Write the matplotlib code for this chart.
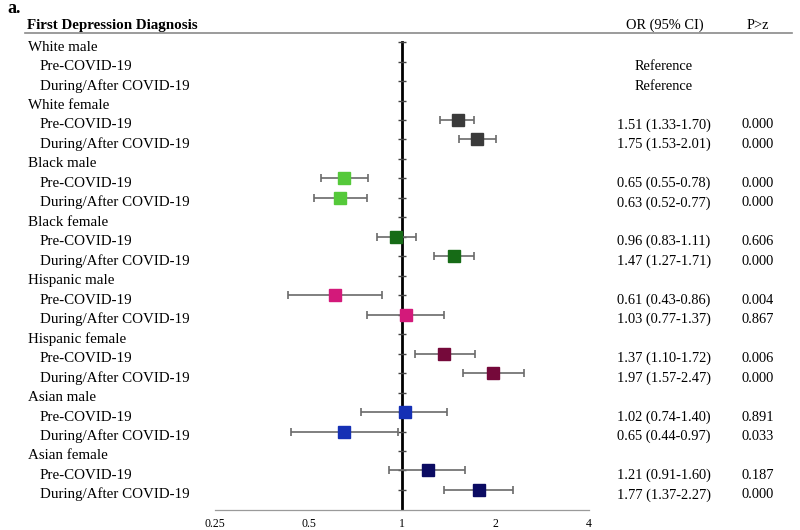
import numpy as np
import matplotlib
matplotlib.use('Agg')
import matplotlib.pyplot as plt
from matplotlib.lines import Line2D
import matplotlib.transforms as mtransforms

plt.rcParams['font.family'] = ['Liberation Serif', 'DejaVu Serif']

# data
groups = ['White male', 'White female', 'Black male', 'Black female',
          'Hispanic male', 'Hispanic female', 'Asian male', 'Asian female']
periods = ['Pre-COVID-19', 'During/After COVID-19']
colors = ['#3a3a3a', '#3a3a3a', '#55c93a', '#166b16',
          '#d3197a', '#75093a', '#1530b5', '#0b0b62']
# two values per group: pre, during/after (White male = reference)
or_est = [1.00, 1.00, 1.51, 1.75, 0.65, 0.63, 0.96, 1.47,
          0.61, 1.03, 1.37, 1.97, 1.02, 0.65, 1.21, 1.77]
ci_low = [1.00, 1.00, 1.33, 1.53, 0.55, 0.52, 0.83, 1.27,
          0.43, 0.77, 1.10, 1.57, 0.74, 0.44, 0.91, 1.37]
ci_high = [1.00, 1.00, 1.70, 2.01, 0.78, 0.77, 1.11, 1.71,
           0.86, 1.37, 1.72, 2.47, 1.40, 0.97, 1.60, 2.27]
p_vals = ['', '', '0.000', '0.000', '0.000', '0.000', '0.606', '0.000',
          '0.004', '0.867', '0.006', '0.000', '0.891', '0.033', '0.187', '0.000']
xticks = [0.25, 0.5, 1, 2, 4]
xticklabels = ['0.25', '0.5', '1', '2', '4']

W, H = 800, 530
fig = plt.figure(figsize=[8, 5.3], dpi=100)

# axes placed in pixel terms
x0, x1 = 215, 589
ybot, ytop = 510, 33
row0, dy = 42.1, 19.47
ax = fig.add_axes([x0 / W, 1 - ybot / H, (x1 - x0) / W, (ybot - ytop) / H])
ax.set_xscale('log', base=2)
ax.set_xlim(0.25, 4)
ax.set_ylim((ybot - row0) / dy, (ytop - row0) / dy)

for s in ['top', 'right', 'left']:
    ax.spines[s].set_visible(False)
ax.spines['bottom'].set_color('#9a9a9a')
ax.spines['bottom'].set_linewidth(0.9)
ax.set_yticks([])
ax.set_xticks(xticks)
ax.set_xticklabels(xticklabels, fontsize=8.5)
ax.minorticks_off()
ax.tick_params(axis='x', length=0, pad=6)

nrows = len(groups) * 3
ax.plot([1, 1], [0, (ybot - row0) / dy], color='black', lw=2, zorder=2)
ax.plot(np.ones(nrows), np.arange(nrows), ls='none', marker='_',
        markersize=6, color='#444444', mew=1.0, zorder=2)

tl = mtransforms.blended_transform_factory(fig.transFigure, ax.transData)
fs = 10.8     # left labels
fsr = 10.4    # right columns
base = 8.5 / dy   # baseline offset below the row centre

k = 0
for ig, g in enumerate(groups):
    r = ig * 3
    ax.text(28 / W, r + base, g, transform=tl, fontsize=fs, va='baseline', ha='left')
    for ip, p in enumerate(periods):
        rr = r + 1 + ip
        ax.text(40 / W, rr + base, p, transform=tl, fontsize=fs,
                va='baseline', ha='left')
        if ig == 0:
            ax.text(664 / W, rr + base, 'Reference', transform=tl, fontsize=fsr,
                    va='baseline', ha='center')
        else:
            ax.errorbar(or_est[k], rr,
                        xerr=[[or_est[k] - ci_low[k]], [ci_high[k] - or_est[k]]],
                        fmt='none', ecolor='#6a6a6a', elinewidth=1.2,
                        capsize=3, capthick=1.2, zorder=3)
            ax.plot(or_est[k], rr, marker='s', markersize=8, color=colors[ig],
                    ls='none', zorder=4)
            txt = '%.2f (%.2f-%.2f)' % (or_est[k], ci_low[k], ci_high[k])
            ax.text(664 / W, rr + base, txt, transform=tl, fontsize=fsr,
                    va='baseline', ha='center')
            ax.text(758 / W, rr + base, p_vals[k], transform=tl, fontsize=fsr,
                    va='baseline', ha='center')
        k += 1

# header
fig.text(7 / W, 1 - 13 / H, 'a.', fontsize=13, fontweight='bold', ha='left', va='baseline')
fig.text(27 / W, 1 - 29 / H, 'First Depression Diagnosis', fontsize=10.8,
         fontweight='bold', ha='left', va='baseline')
fig.text(665 / W, 1 - 29 / H, 'OR (95% CI)', fontsize=fsr, ha='center', va='baseline')
fig.text(758 / W, 1 - 29 / H, 'P>z', fontsize=fsr, ha='center', va='baseline')
fig.add_artist(Line2D([25 / W, 792 / W], [1 - 33 / H, 1 - 33 / H],
                      transform=fig.transFigure, color='#8a8a8a', lw=1.2))

fig.savefig('out.png', dpi=100)
